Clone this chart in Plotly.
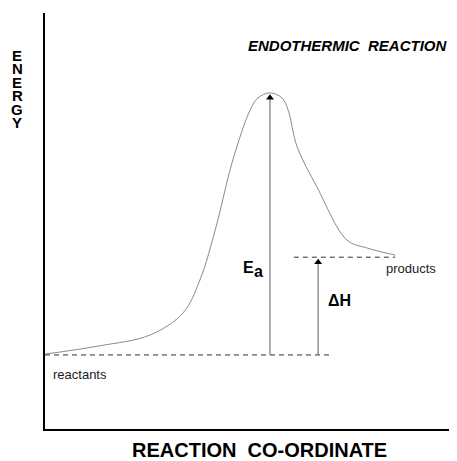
import plotly.graph_objects as go

# energy profile (reaction coordinate 0-100, energy 0-100)
coord = [0, 13.3, 25.5, 33.5, 37.6, 41.3, 45.6, 49.8, 51.7, 54.6, 57.5, 59.0, 61.2, 66.0, 73.3, 78.2, 85.0]
energy = [18.0, 20.0, 22.6, 27.9, 35.8, 47.8, 64.7, 76.7, 79.6, 80.8, 79.6, 76.7, 67.8, 58.2, 45.4, 43.5, 41.8]

reactant_level = 17.8
product_level = 41.3
peak_level = 80.8
reactant_span = [0, 69.2]
product_span = [60.4, 85.0]
ea_x = 54.6
dh_x = 66.3

energy_letters = list("ENERGY")
font = "Arial, Liberation Sans, sans-serif"

fig = go.Figure()
fig.add_trace(go.Scatter(x=coord, y=energy, mode="lines", line=dict(color="#8a8a8a", width=1, shape="spline", smoothing=1)))
fig.add_trace(go.Scatter(x=reactant_span, y=[reactant_level] * 2, mode="lines", line=dict(color="#333333", width=1, dash="5px,4px")))
fig.add_trace(go.Scatter(x=product_span, y=[product_level] * 2, mode="lines", line=dict(color="#333333", width=1, dash="5px,4px")))

# arrows: gray shafts, black heads
fig.add_trace(go.Scatter(x=[ea_x, ea_x], y=[reactant_level, peak_level - 1], mode="lines", line=dict(color="#777777", width=1.2)))
fig.add_trace(go.Scatter(x=[dh_x, dh_x], y=[reactant_level, product_level - 1], mode="lines", line=dict(color="#777777", width=1.2)))
fig.add_trace(go.Scatter(x=[ea_x, dh_x], y=[peak_level - 1.2, product_level - 1.2], mode="markers",
                         marker=dict(symbol="triangle-up", size=7, color="black")))

ann = [
    dict(x=48.8, y=92.3, text="<b><i>ENDOTHERMIC  REACTION</i></b>", xanchor="left", font=dict(size=15, color="black")),
    dict(x=49.3, y=38.9, text="<b>E</b>", font=dict(size=16, color="black")),
    dict(x=51.9, y=37.9, text="<b>a</b>", font=dict(size=16, color="black")),
    dict(x=71.6, y=30.8, text="<b>ΔH</b>", font=dict(size=16, color="black")),
    dict(x=82.4, y=38.5, text="products", xanchor="left", font=dict(size=13, color="#222222")),
    dict(x=1.5, y=13.2, text="reactants", xanchor="left", font=dict(size=13, color="#222222")),
]
for a in ann:
    a.setdefault("xanchor", "center")
    fig.add_annotation(showarrow=False, xref="x", yref="y", yanchor="middle", **a)

for i, ch in enumerate(energy_letters):
    fig.add_annotation(x=-28 / 412, y=(429 - 54.5 - 13.5 * i) / 416, xref="paper", yref="paper", showarrow=False,
                       xanchor="center", yanchor="middle",
                       text="<b>" + ch + "</b>", font=dict(size=15, color="black"), height=12)
fig.add_annotation(x=0.52, y=-21 / 416, xref="paper", yref="paper", showarrow=False,
                   xanchor="center", yanchor="middle",
                   text="<b>REACTION  CO-ORDINATE</b>", font=dict(size=20, color="black"))

# page body has an 8px margin, so the figure is shifted to line up with the window
fig.update_layout(
    width=457, height=453,
    margin=dict(l=37, r=8, t=5, b=32),
    paper_bgcolor="white", plot_bgcolor="white",
    showlegend=False,
    font=dict(family=font, color="black"),
)
fig.update_xaxes(range=[0, 100], showline=True, linecolor="black", linewidth=1.5, showgrid=False,
                 zeroline=False, showticklabels=False, ticks="")
fig.update_yaxes(range=[0, 100], showline=True, linecolor="black", linewidth=1.5, showgrid=False,
                 zeroline=False, showticklabels=False, ticks="")

fig.write_html("out.html")
